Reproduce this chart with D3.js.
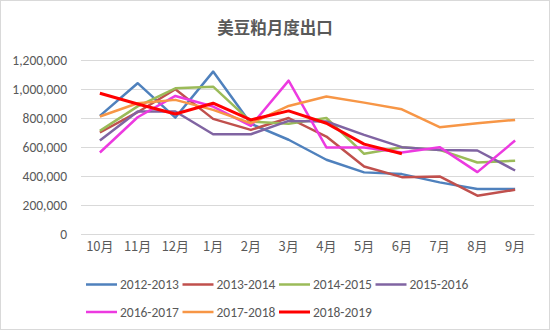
<!DOCTYPE html>
<html><head><meta charset="utf-8">
<script src="https://cdn.jsdelivr.net/npm/d3@7"></script>
<style>body{margin:0;background:#fff}svg{display:block}</style>
</head><body>
<script>
const months = ["10月","11月","12月","1月","2月","3月","4月","5月","6月","7月","8月","9月"];
const seriesNames = ["2012-2013","2013-2014","2014-2015","2015-2016","2016-2017","2017-2018","2018-2019"];
const colors = ["#4F81BD","#C0504D","#9BBB59","#8064A2","#EC3AE0","#F79646","#FF0000"];
const s2012 = [815000,1040000,803000,1120000,760000,650000,512000,425000,413000,356000,310000,310000];
const s2013 = [700000,840000,998000,794000,718000,800000,672000,466000,392000,397000,264000,305000];
const s2014 = [711000,880000,1005000,1016000,775000,760000,800000,553000,599000,580000,493000,505000];
const s2015 = [645000,845000,845000,688000,688000,780000,776000,684000,599000,580000,576000,438000];
const s2016 = [562000,805000,952000,879000,746000,1058000,597000,597000,562000,599000,427000,645000];
const s2017 = [810000,902000,925000,856000,764000,883000,948000,906000,860000,737000,764000,787000];
const s2018 = [971000,897000,828000,902000,787000,849000,764000,620000,553000];
const allSeries = [s2012,s2013,s2014,s2015,s2016,s2017,s2018];
const yTicks = [0,200000,400000,600000,800000,1000000,1200000];

const W=550,H=330;
const svg=d3.select("body").append("svg").attr("width",W).attr("height",H);
svg.append("rect").attr("x",0.5).attr("y",0.5).attr("width",W-1).attr("height",H-1)
  .attr("fill","#fff").attr("stroke","#D9D9D9");

const x=d3.scaleBand().domain(months).range([81,534]);
const y=d3.scaleLinear().domain([0,1200000]).range([234,60]);

svg.append("text").attr("x",275).attr("y",34).attr("text-anchor","middle")
  .attr("font-family","'Noto Sans CJK SC',sans-serif").attr("font-weight","bold")
  .attr("font-size",16.5).attr("fill","#595959").text("美豆粕月度出口");

// grid
const gy=svg.append("g").attr("transform","translate(81,0)")
  .call(d3.axisLeft(y).tickValues(yTicks).tickSize(-453).tickFormat(d3.format(",")));
gy.select(".domain").remove();
gy.selectAll(".tick line").attr("stroke","#D9D9D9");
gy.selectAll(".tick text").attr("x",-14).attr("fill","#595959")
  .attr("font-family","Calibri,'Liberation Sans','Noto Sans',sans-serif").attr("font-size",13.5);

const gx=svg.append("g").attr("transform","translate(0,234)")
  .call(d3.axisBottom(x).tickSize(0).tickPadding(8));
gx.select(".domain").attr("stroke","#D9D9D9");
gx.selectAll(".tick text").attr("fill","#595959")
  .attr("font-family","'Noto Sans CJK SC',sans-serif").attr("font-size",13);

const line=d3.line().x((d,i)=>x(months[i])+x.bandwidth()/2).y(d=>y(d));
allSeries.forEach((s,k)=>{
  svg.append("path").datum(s).attr("d",line).attr("fill","none")
    .attr("stroke",colors[k]).attr("stroke-width",k===6?3:2.5)
    .attr("stroke-linejoin","round");
});

// legend
const lg=svg.append("g");
seriesNames.forEach((n,k)=>{
  const row=Math.floor(k/4), col=k%4;
  const lx=86+col*96.5, ly=284.5+row*27.5;
  lg.append("line").attr("x1",lx).attr("x2",lx+31).attr("y1",ly).attr("y2",ly)
    .attr("stroke",colors[k]).attr("stroke-width",k===6?3:2.5);
  lg.append("text").attr("x",lx+34).attr("y",ly).attr("dy","0.35em")
    .attr("font-family","Calibri,'Liberation Sans','Noto Sans',sans-serif").attr("font-size",13.5)
    .attr("fill","#595959").text(n);
});
</script>
</body></html>
